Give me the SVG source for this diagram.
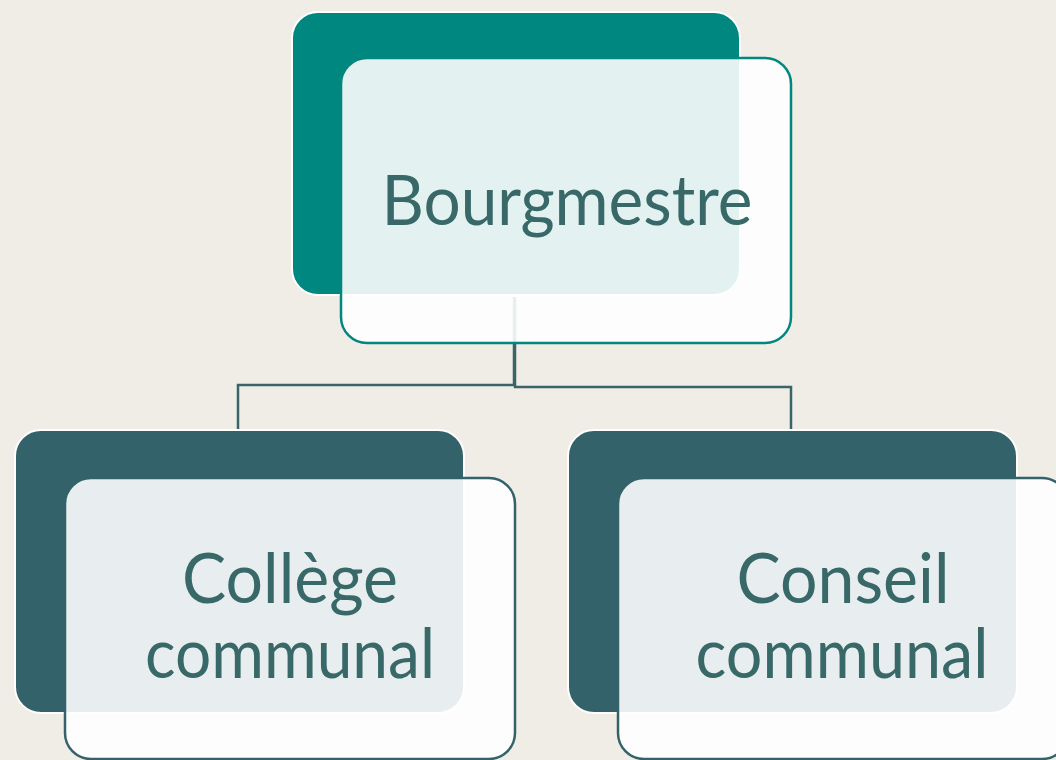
<svg xmlns="http://www.w3.org/2000/svg" width="1056" height="760" viewBox="0 0 1056 760">
<style>
.back-top{fill:#00877F;stroke:#FFFFFF;stroke-width:2}
.back{fill:#33626A;stroke:#FFFFFF;stroke-width:2}
.front-top{fill:#FFFFFF;fill-opacity:0.89;stroke:#00877F;stroke-width:2.5}
.front{fill:#FFFFFF;fill-opacity:0.89;stroke:#33626A;stroke-width:2.5}
.lbl{font-family:Lato,"Open Sans","Liberation Sans",sans-serif;font-size:70px;fill:#386968;text-anchor:middle}
.conn{fill:none;stroke:#3A6468;stroke-width:2.5}
</style>
<rect width="1056" height="760" fill="#F0ECE6"/>
<g id="connectors">
<path class="conn" d="M514,297 V385 H238 V429"/>
<path class="conn" d="M515,297 V387 H791 V429"/>
</g>
<g id="node-bourgmestre">
<rect class="back-top" x="292" y="12" width="448" height="283" rx="26"/>
<rect class="front-top" x="341" y="58" width="450" height="285" rx="26"/>
<text class="lbl" x="567" y="225" textLength="371" lengthAdjust="spacingAndGlyphs">Bourgmestre</text>
</g>
<g id="node-college">
<rect class="back" x="15" y="430" width="449" height="283" rx="26"/>
<rect class="front" x="65" y="478" width="450" height="281" rx="26"/>
<text class="lbl" x="290" y="603" textLength="216" lengthAdjust="spacingAndGlyphs">Collège</text>
<text class="lbl" x="290" y="678" textLength="290" lengthAdjust="spacingAndGlyphs">communal</text>
</g>
<g id="node-conseil">
<rect class="back" x="568" y="430" width="449" height="283" rx="26"/>
<rect class="front" x="618" y="478" width="450" height="281" rx="26"/>
<text class="lbl" x="843" y="603" textLength="213" lengthAdjust="spacingAndGlyphs">Conseil</text>
<text class="lbl" x="842" y="678" textLength="293" lengthAdjust="spacingAndGlyphs">communal</text>
</g>
</svg>
